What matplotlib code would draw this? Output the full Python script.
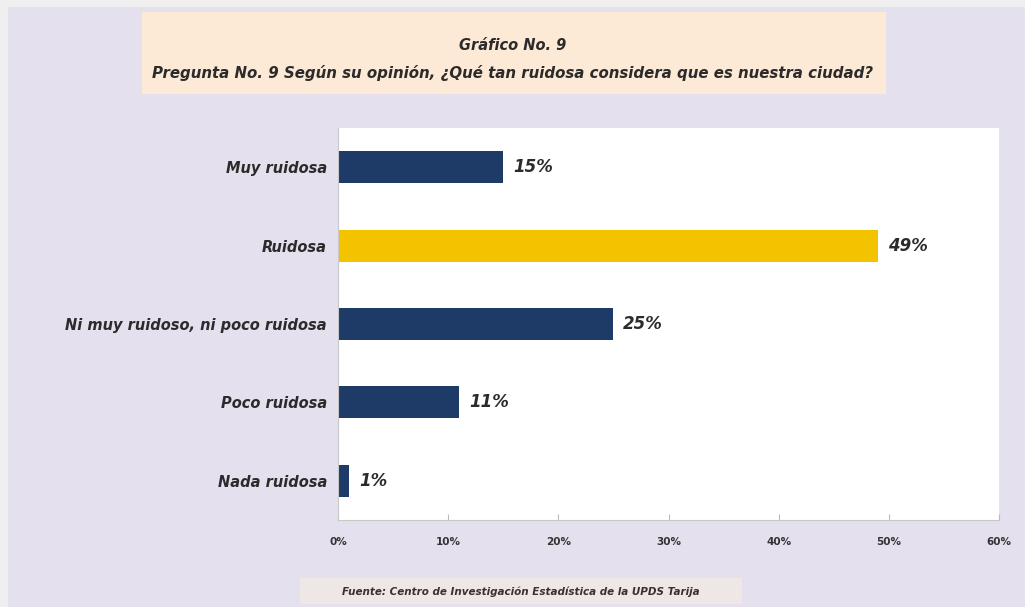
import matplotlib
matplotlib.use("Agg")
import matplotlib.pyplot as plt
from matplotlib.patches import Rectangle
from matplotlib.ticker import PercentFormatter

# survey answers, top to bottom
categories = ["Muy ruidosa", "Ruidosa", "Ni muy ruidoso, ni poco ruidosa",
              "Poco ruidosa", "Nada ruidosa"]
shares = [0.15, 0.49, 0.25, 0.11, 0.01]
value_labels = ["15%", "49%", "25%", "11%", "1%"]
highlight = "Ruidosa"
xticks = [0.0, 0.1, 0.2, 0.3, 0.4, 0.5, 0.6]

title = "Gráfico No. 9"
subtitle = "Pregunta No. 9 Según su opinión, ¿Qué tan ruidosa considera que es nuestra ciudad?"
source = "Fuente: Centro de Investigación Estadística de la UPDS Tarija"

NAVY = "#1d3b66"
GOLD = "#f4c300"
TEXT = "#2b2b2b"
LAVENDER = "#e5e0ed"
PEACH = "#fce9d6"

plt.rcParams["font.family"] = ["DejaVu Sans"]

W, H, DPI = 1025, 607, 100
fig = plt.figure(figsize=(W / DPI, H / DPI), dpi=DPI)
fig.patch.set_facecolor("#efefef")


def px_rect(x0, y0, x1, y1, **kw):
    """Rectangle in pixel coords (origin top-left) drawn on the figure."""
    fig.patches.append(Rectangle((x0 / W, 1 - y1 / H), (x1 - x0) / W, (y1 - y0) / H,
                                 transform=fig.transFigure, **kw))


# panel background, title band and source band (behind the axes)
px_rect(8, 7, W, H, facecolor=LAVENDER, edgecolor="none", zorder=-3)
px_rect(142, 12, 886, 94, facecolor=PEACH, edgecolor="none", zorder=-2)
px_rect(300, 578, 742, 604, facecolor="#efe6e6", edgecolor="none", zorder=-2)

fig.text(513 / W, 1 - 45 / H, title, ha="center", va="center",
         fontsize=10.5, fontweight="bold", style="italic", color=TEXT)
fig.text(513 / W, 1 - 73 / H, subtitle, ha="center", va="center",
         fontsize=10.8, fontweight="bold", style="italic", color=TEXT)
fig.text(521 / W, 1 - 592 / H, source, ha="center", va="center",
         fontsize=7.5, fontweight="bold", style="italic", color="#3a3030")

# plot area
left, right, top, bottom = 338, 999, 128, 520
ax = fig.add_axes([left / W, 1 - bottom / H, (right - left) / W, (bottom - top) / H])
ax.set_facecolor("white")

y = list(range(len(categories)))
colors = [GOLD if c == highlight else NAVY for c in categories]
ax.barh(y, shares, height=0.41, color=colors, edgecolor="none", zorder=2)
for yi, v, lab in zip(y, shares, value_labels):
    ax.text(v + 0.009, yi, lab, ha="left", va="center", fontsize=12,
            fontweight="bold", style="italic", color=TEXT)

ax.set_ylim(len(categories) - 0.5, -0.5)
ax.set_yticks(y)
ax.set_yticklabels(categories, fontsize=10.5, fontweight="bold", style="italic", color=TEXT)
ax.tick_params(axis="y", length=0, pad=8)

ax.set_xlim(0, 0.6)
ax.set_xticks(xticks)
ax.xaxis.set_major_formatter(PercentFormatter(1.0, decimals=0))
ax.tick_params(axis="x", direction="in", length=4, color="#bbbbbb", pad=12,
               labelsize=7.5, labelcolor="#333333")
for t in ax.get_xticklabels():
    t.set_fontweight("bold")

for side in ("top", "right"):
    ax.spines[side].set_visible(False)
ax.spines["left"].set_color("#c8c8c8")
ax.spines["bottom"].set_color("#c8c8c8")

fig.savefig("out.png", dpi=DPI, facecolor=fig.get_facecolor())
